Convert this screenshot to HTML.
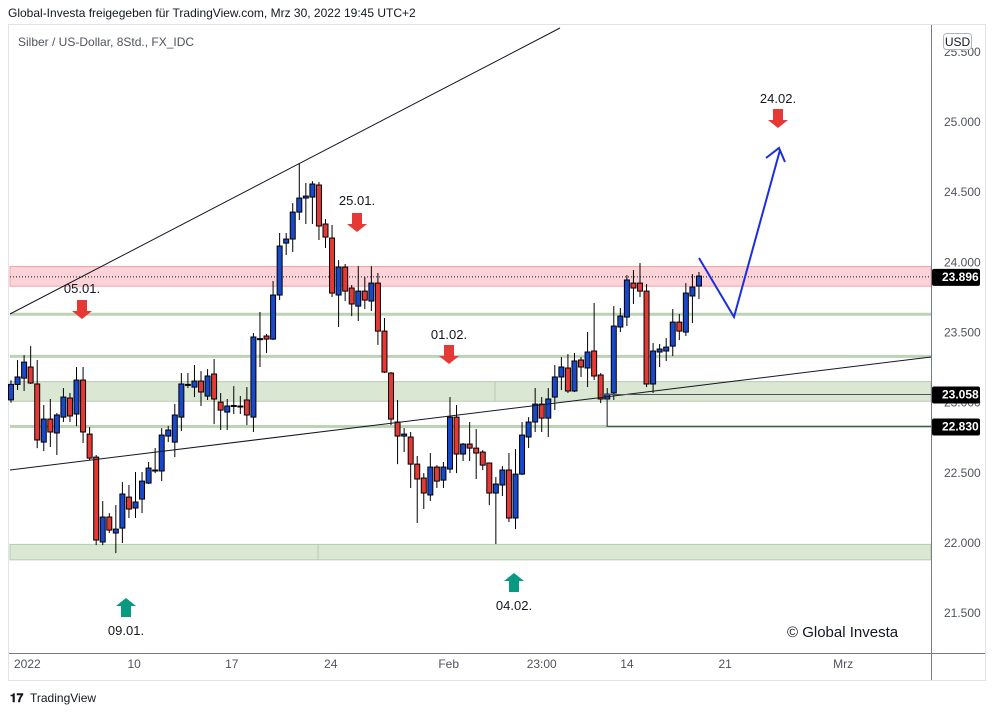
<!DOCTYPE html>
<html><head><meta charset="utf-8"><style>
html,body{margin:0;padding:0;background:#fff;width:995px;height:715px;overflow:hidden}
svg{display:block;font-family:"Liberation Sans",sans-serif}
</style></head><body>
<svg id="chart" width="995" height="715" viewBox="0 0 995 715">
<text x="8" y="17" font-size="12" fill="#131722">Global-Investa freigegeben für TradingView.com, Mrz 30, 2022 19:45 UTC+2</text>
<rect x="8.5" y="24.5" width="977" height="656" fill="#fff" stroke="#e0e3eb"/>
<g id="zones"></g>
<g id="candles"></g>
<g id="drawings"></g>
<g id="axes"></g>
<text x="18" y="46" font-size="12" fill="#50535e">Silber / US-Dollar, 8Std., FX_IDC</text>
<text x="787" y="637" font-size="15" fill="#131722">© Global Investa</text>
<g><text x="10" y="702" font-size="12" font-weight="bold" fill="#131722">𝟏𝟕</text><text x="30" y="702" font-size="12" fill="#131722">TradingView</text></g>
</svg>
<script>
const opens=[23.02,23.13,23.175,23.254,23.133,22.719,22.883,22.784,22.897,23.033,22.919,23.161,22.776,22.612,22.007,22.185,22.071,22.106,22.327,22.249,22.313,22.427,22.513,22.513,22.762,22.719,22.897,23.125,23.111,23.154,23.047,23.204,23.004,22.933,22.976,22.976,23.019,22.897,23.453,23.475,23.453,23.767,24.137,24.166,24.358,24.458,24.465,24.551,24.273,24.173,23.767,23.966,23.817,23.688,23.795,23.724,23.852,23.510,23.211,22.862,22.762,22.755,22.562,22.463,22.342,22.541,22.448,22.527,22.897,22.634,22.705,22.676,22.648,22.570,22.356,22.413,22.520,22.178,22.491,22.755,22.862,22.990,22.890,23.040,23.183,23.247,23.083,23.304,23.247,23.368,23.197,23.026,23.069,23.539,23.610,23.852,23.852,23.795,23.133,23.361,23.368,23.403,23.574,23.503,23.760,23.831];
const closes=[23.13,23.183,23.289,23.140,22.734,22.883,22.791,22.912,23.040,22.905,23.161,22.791,22.605,22.021,22.185,22.092,22.099,22.349,22.242,22.292,22.441,22.534,22.520,22.769,22.805,22.912,23.133,23.130,23.154,23.076,23.190,23.026,22.947,22.976,22.980,22.970,22.912,23.468,23.456,23.453,23.767,24.116,24.166,24.358,24.458,24.472,24.558,24.259,24.180,23.781,23.966,23.795,23.703,23.795,23.731,23.852,23.510,23.218,22.883,22.762,22.776,22.562,22.456,22.356,22.541,22.441,22.541,22.897,22.634,22.705,22.676,22.641,22.555,22.356,22.420,22.520,22.178,22.491,22.769,22.862,22.990,22.890,23.026,23.183,23.254,23.083,23.297,23.254,23.361,23.190,23.026,23.061,23.546,23.617,23.874,23.817,23.795,23.133,23.368,23.382,23.396,23.574,23.510,23.781,23.824,23.902];
const highs=[23.16,23.304,23.339,23.403,23.304,22.983,23.026,22.926,23.104,23.069,23.254,23.254,22.826,22.627,22.299,22.213,22.270,22.434,22.413,22.506,22.506,22.577,22.677,22.819,22.833,22.990,23.211,23.211,23.268,23.225,23.239,23.311,23.069,23.026,23.118,23.047,23.111,23.496,23.646,23.489,23.867,24.209,24.209,24.422,24.707,24.565,24.579,24.572,24.308,24.266,24.016,23.988,23.838,23.973,23.895,23.973,23.924,23.603,23.218,23.019,22.819,22.791,22.620,22.498,22.641,22.555,22.577,23.040,22.983,22.712,22.862,22.812,22.662,22.570,22.470,22.548,22.641,22.669,22.862,22.897,23.104,23.040,23.104,23.268,23.325,23.346,23.354,23.325,23.503,23.710,23.211,23.104,23.688,23.674,23.909,23.945,23.995,23.845,23.425,23.418,23.460,23.667,23.632,23.852,23.916,23.931];
const lows=[23.00,23.090,23.083,23.133,22.676,22.655,22.684,22.627,22.862,22.862,22.833,22.712,22.591,21.985,21.985,22.071,21.928,22.000,22.178,22.178,22.213,22.420,22.498,22.441,22.719,22.612,22.798,23.104,23.040,22.976,23.019,22.847,22.805,22.805,22.919,22.919,22.840,22.791,23.254,23.354,23.446,23.731,24.052,24.073,24.301,24.273,24.273,24.159,24.102,23.753,23.539,23.724,23.617,23.582,23.667,23.653,23.411,23.211,22.840,22.562,22.648,22.392,22.142,22.242,22.299,22.392,22.392,22.498,22.498,22.584,22.584,22.456,22.520,22.270,21.993,22.335,22.149,22.099,22.484,22.677,22.791,22.791,22.755,22.947,23.090,23.069,23.076,23.183,23.111,23.161,22.997,22.833,23.019,23.503,23.546,23.703,23.753,23.111,23.069,23.254,23.297,23.332,23.446,23.475,23.567,23.738];
const priceTicks=[25.5,25.0,24.5,24.0,23.5,23.0,22.5,22.0,21.5];
const timeTickLabels=["2022","10","17","24","Feb","23:00","14","21","Mrz"];
const timeTickBars=[2.6,18.8,33.7,48.8,66.8,81,94,109,127];
const priceTags=[23.896,23.058,22.830];
const NS="http://www.w3.org/2000/svg";
const yOf=p=>122+(25-p)*140.33;
const xOf=i=>11+i*6.552;
function mk(tag,attrs,parent){const e=document.createElementNS(NS,tag);for(const k in attrs)e.setAttribute(k,attrs[k]);parent.appendChild(e);return e;}
const Z=document.getElementById('zones'),C=document.getElementById('candles'),D=document.getElementById('drawings'),A=document.getElementById('axes');
// zones
let e;
e=mk('rect',{x:10,y:yOf(23.97),width:921,height:yOf(23.83)-yOf(23.97),fill:'rgba(242,54,69,0.22)',stroke:'#f7a1a6'},Z);


e=mk('line',{x1:10,x2:931,y1:yOf(23.896),y2:yOf(23.896),stroke:'#131722','stroke-dasharray':'1 2'},Z);


[23.63,23.33,22.83].forEach(p=>{
 e=mk('line',{x1:10,x2:931,y1:yOf(p),y2:yOf(p),stroke:'#bcd3b5','stroke-width':3},Z);
 
 
});
[[23.15,23.01,495],[21.99,21.88,318]].forEach(z=>{
 e=mk('rect',{x:10,y:yOf(z[0]),width:921,height:yOf(z[1])-yOf(z[0]),fill:'rgba(160,195,145,0.4)',stroke:'#b5cdae'},Z);
 
 
 mk('line',{x1:z[2],x2:z[2],y1:yOf(z[0]),y2:yOf(z[1]),stroke:'#b5cdae'},Z);
});
// candles
for(let i=0;i<opens.length;i++){
 const x=xOf(i),o=opens[i],c=closes[i],up=c>=o;
 const g=mk('g',{},C);
 
 
 mk('line',{x1:x,x2:x,y1:yOf(highs[i]),y2:yOf(lows[i]),stroke:'#000','stroke-width':1},g);
 const t=yOf(Math.max(o,c)),b=yOf(Math.min(o,c));
 mk('rect',{x:x-2.5,y:t,width:5,height:Math.max(b-t,1),fill:up?'#1848cc':'#e53935',stroke:'#000','stroke-width':1},g);
}
// drawings
e=mk('line',{x1:10,y1:314,x2:560,y2:28,stroke:'#131722','stroke-width':1},D);


e=mk('line',{x1:10,y1:470,x2:931,y2:357,stroke:'#131722','stroke-width':1},D);


e=mk('polyline',{points:`600,${yOf(23.058)} 931,${yOf(23.058)}`,fill:'none',stroke:'#50535e'},D);


e=mk('polyline',{points:`607,${yOf(23.03)} 607,${yOf(22.83)} 931,${yOf(22.83)}`,fill:'none',stroke:'#50535e'},D);


e=mk('polyline',{points:'699,258 734,317 780,150',fill:'none',stroke:'#1a2de0','stroke-width':2},D);


e=mk('polyline',{points:'766,158 779,148 785,162',fill:'none',stroke:'#1a2de0','stroke-width':2},D);


function arrow(cx,tip,down,col,label,ly,name){
 const g=mk('g',{},D);
 
 
 const s=down?-1:1;
 mk('polygon',{points:`${cx-5},${tip+s*19} ${cx+5},${tip+s*19} ${cx+5},${tip+s*8} ${cx+10},${tip+s*8} ${cx},${tip} ${cx-10},${tip+s*8} ${cx-5},${tip+s*8}`,fill:col},g);
 const t=mk('text',{x:cx,y:ly,'font-size':13,'text-anchor':'middle',fill:'#131722'},g);t.textContent=label;
}
arrow(82,319,true,'#e53935','05.01.',293,'arrow-05-01');
arrow(357,232,true,'#e53935','25.01.',205,'arrow-25-01');
arrow(449,364,true,'#e53935','01.02.',339,'arrow-01-02');
arrow(778,128,true,'#e53935','24.02.',103,'arrow-24-02');
arrow(126,598,false,'#089981','09.01.',635,'arrow-09-01');
arrow(514,573,false,'#089981','04.02.',610,'arrow-04-02');
// axes
mk('line',{x1:931.5,x2:931.5,y1:25,y2:680,stroke:'#787b86'},A);
mk('line',{x1:9,x2:985,y1:653.5,y2:653.5,stroke:'#787b86'},A);
priceTicks.forEach(p=>{
 e=mk('text',{x:944,y:yOf(p)+4,'font-size':12,fill:'#50535e'},A);
 e.textContent=p.toFixed(3);
 
 
});
timeTickLabels.forEach((l,i)=>{
 e=mk('text',{x:xOf(timeTickBars[i]),y:668,'font-size':12,fill:'#50535e','text-anchor':i===0?'start':'middle'},A);
 if(i===0)e.setAttribute('x',14);
 e.textContent=l;
 
 
});
priceTags.forEach(p=>{
 const g=mk('g',{},A);
 
 
 mk('rect',{x:932,y:yOf(p)-8,width:48,height:17,rx:2,fill:'#000'},g);
 const t=mk('text',{x:942,y:yOf(p)+4,'font-size':12,'font-weight':'bold',fill:'#fff'},g);t.textContent=p.toFixed(3);
});
const ub=mk('g',{},A);


mk('rect',{x:943.5,y:33.5,width:28,height:16,rx:3,fill:'#fff',stroke:'#b2b5be'},ub);
const ut=mk('text',{x:957.5,y:46,'font-size':12,'text-anchor':'middle',fill:'#131722'},ub);ut.textContent='USD';
</script>
</body></html>
